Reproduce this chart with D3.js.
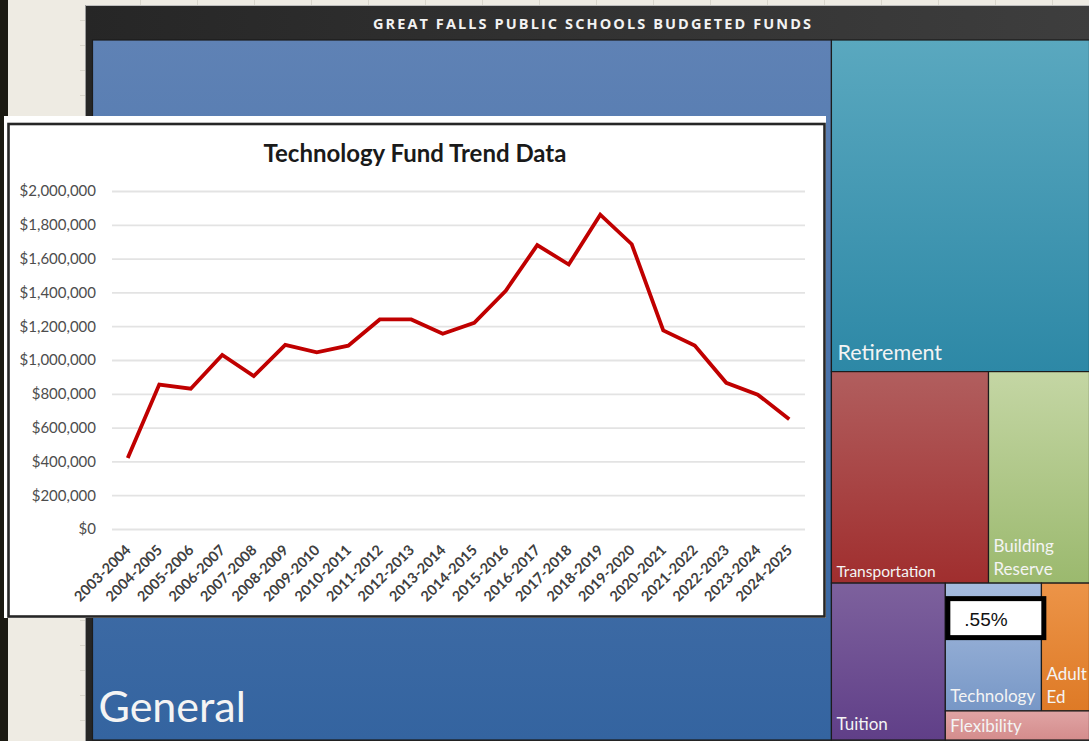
<!DOCTYPE html>
<html><head><meta charset="utf-8">
<script src="https://cdn.jsdelivr.net/npm/d3@7"></script>
<style>
html,body{margin:0;padding:0;background:#eeebe3;overflow:hidden;}
svg{display:block;}
</style></head>
<body>
<svg id="c" width="1089" height="741"></svg>
<script>
// ---------- DATA ----------
const pageTitle = "GREAT FALLS PUBLIC SCHOOLS BUDGETED FUNDS";
const fundNames  = ["General","Retirement","Transportation","Building Reserve","Tuition","Technology","Adult Ed","Flexibility"];
const fundShares = [74.1, 12.26, 4.76, 3.06, 2.56, 1.76, 0.88, 0.6];
const calloutText = ".55%";

const chartTitle = "Technology Fund Trend Data";
const years = ["2003-2004","2004-2005","2005-2006","2006-2007","2007-2008","2008-2009","2009-2010","2010-2011","2011-2012","2012-2013","2013-2014","2014-2015","2015-2016","2016-2017","2017-2018","2018-2019","2019-2020","2020-2021","2021-2022","2022-2023","2023-2024","2024-2025"];
const techFund = [420000,855000,830000,1030000,905000,1090000,1045000,1085000,1240000,1240000,1155000,1220000,1410000,1680000,1565000,1860000,1685000,1175000,1085000,865000,795000,650000];
const yTicks = [0,200000,400000,600000,800000,1000000,1200000,1400000,1600000,1800000,2000000];
const yTickLabels = ["$0","$200,000","$400,000","$600,000","$800,000","$1,000,000","$1,200,000","$1,400,000","$1,600,000","$1,800,000","$2,000,000"];

// ---------- DRAW ----------
const svg = d3.select("#c");
const defs = svg.append("defs");

// page background details
svg.append("rect").attr("x",0).attr("y",0).attr("width",8).attr("height",741).attr("fill","#1b1a12");
const gridG = svg.append("g").attr("stroke","#d9d6cc").attr("stroke-width",1);
d3.range(140, 1089, 57).forEach(x=>gridG.append("line").attr("x1",x+0.5).attr("x2",x+0.5).attr("y1",0).attr("y2",5));
d3.range(20, 741, 25).forEach(y=>gridG.append("line").attr("x1",80).attr("x2",85).attr("y1",y+0.5).attr("y2",y+0.5));

// frame
const fg = defs.append("linearGradient").attr("id","frameG").attr("x1",0).attr("x2",1).attr("y1",0).attr("y2",0);
fg.append("stop").attr("offset","0").attr("stop-color","#262626");
fg.append("stop").attr("offset","1").attr("stop-color","#3e3e3e");
svg.append("rect").attr("x",85).attr("y",5).attr("width",1010).attr("height",740).attr("fill","url(#frameG)");
svg.append("line").attr("x1",85).attr("x2",1089).attr("y1",5.5).attr("y2",5.5).attr("stroke","#bdbdbd");
svg.append("line").attr("x1",85.5).attr("x2",85.5).attr("y1",5).attr("y2",741).attr("stroke","#9a9a9a");
svg.append("text").attr("x",593).attr("y",28.5).attr("text-anchor","middle")
  .attr("font-family","'Open Sans', sans-serif").attr("font-weight",700).attr("font-size",14.5)
  .attr("letter-spacing",2.1).attr("fill","#f2f2f2").text(pageTitle);

// treemap
const gradColors = {
  "General":["#5f82b5","#3464a0"],
  "Retirement":["#5aa8bf","#2d88a6"],
  "Transportation":["#b15e5e","#a02e2e"],
  "Building Reserve":["#c4d6a4","#9bb96e"],
  "Tuition":["#7d619d","#603f88"],
  "Technology":["#a6bcdf","#7797c6"],
  "Adult Ed":["#ec9448","#de7a26"],
  "Flexibility":["#e0a4a4","#d48c8c"]
};
const share = n => fundShares[fundNames.indexOf(n)];
const treeData = {dir:"dice", children:[
  {name:"General", value:share("General")},
  {dir:"slice", children:[
    {name:"Retirement", value:share("Retirement")},
    {dir:"dice", children:[{name:"Transportation",value:share("Transportation")},{name:"Building Reserve",value:share("Building Reserve")}]},
    {dir:"dice", children:[
      {name:"Tuition", value:share("Tuition")},
      {dir:"slice", children:[
        {dir:"dice", children:[{name:"Technology",value:share("Technology")},{name:"Adult Ed",value:share("Adult Ed")}]},
        {name:"Flexibility", value:share("Flexibility")}
      ]}
    ]}
  ]}
]};
const root = d3.hierarchy(treeData).sum(d=>d.value||0);
d3.treemap()
  .tile((node,x0,y0,x1,y1)=> (node.data.dir==="slice"? d3.treemapSlice : d3.treemapDice)(node,x0,y0,x1,y1))
  .size([997,700]).round(false)(root);
const tm = svg.append("g").attr("transform","translate(92.5,40)");
root.leaves().forEach((lf,i)=>{
  const c = gradColors[lf.data.name];
  const gid = "g"+i;
  const lg = defs.append("linearGradient").attr("id",gid).attr("x1",0).attr("x2",0).attr("y1",0).attr("y2",1);
  lg.append("stop").attr("offset","0").attr("stop-color",c[0]);
  lg.append("stop").attr("offset","1").attr("stop-color",c[1]);
  tm.append("rect").attr("x",lf.x0).attr("y",lf.y0).attr("width",lf.x1-lf.x0).attr("height",lf.y1-lf.y0)
    .attr("fill",`url(#${gid})`).attr("stroke","#1c1c1c").attr("stroke-width",1.2);
});
const labelSpec = {
  "General":{size:43, lines:["General"], dx:6, by:682},
  "Retirement":{size:21.5, lines:["Retirement"], dx:6, by:320},
  "Transportation":{size:15.5, lines:["Transportation"], dx:5, by:537},
  "Building Reserve":{size:17, lines:["Building","Reserve"], dx:5, by:512},
  "Tuition":{size:17, lines:["Tuition"], dx:5, by:690},
  "Technology":{size:17, lines:["Technology"], dx:5, by:662},
  "Adult Ed":{size:17, lines:["Adult","Ed"], dx:5, by:640},
  "Flexibility":{size:17, lines:["Flexibility"], dx:5, by:692}
};
root.leaves().forEach(lf=>{
  const s = labelSpec[lf.data.name];
  const t = tm.append("text").attr("font-family","Lato, 'Noto Sans', sans-serif").attr("font-size",s.size)
    .attr("fill","#f4f4f4");
  s.lines.forEach((ln,j)=>t.append("tspan").attr("x",lf.x0+s.dx).attr("y",s.by+j*s.size*1.35).text(ln));
});
// callout box on technology
const tech = root.leaves().find(l=>l.data.name==="Technology");
tm.append("rect").attr("x",tech.x0+2.5).attr("y",tech.y0+15.5).attr("width",96).attr("height",39)
  .attr("fill","#ffffff").attr("stroke","#000").attr("stroke-width",5);
tm.append("text").attr("x",tech.x0+19).attr("y",tech.y0+43).attr("font-family","'Liberation Sans', Arial, sans-serif")
  .attr("font-size",19).attr("fill","#111").text(calloutText);

// ---------- LINE CHART PANEL ----------
svg.append("rect").attr("x",4).attr("y",116).attr("width",822).attr("height",502).attr("fill","#ffffff");
svg.append("rect").attr("x",8.5).attr("y",124).attr("width",816).attr("height",492.5).attr("fill","#ffffff")
  .attr("stroke","#262626").attr("stroke-width",2.6);

svg.append("text").attr("x",415).attr("y",162).attr("text-anchor","middle")
  .attr("font-family","Lato, 'Noto Sans', sans-serif").attr("font-weight",700).attr("font-size",24)
  .attr("fill","#1a1a1a").text(chartTitle);

const x = d3.scaleBand().domain(years).range([112,805]);
const y = d3.scaleLinear().domain([0,2000000]).range([529,191]);

const yAx = svg.append("g").attr("transform","translate(112,0)")
  .call(d3.axisLeft(y).tickValues(yTicks).tickFormat((d,i)=>yTickLabels[i]).tickSize(-693).tickPadding(16));
yAx.select(".domain").remove();
yAx.selectAll(".tick line").attr("stroke","#e3e3e3").attr("stroke-width",1.8);
yAx.selectAll(".tick text").attr("font-family","Lato, 'Noto Sans', sans-serif").attr("font-size",15)
  .attr("fill","#4d4d4d");

const xAx = svg.append("g").attr("transform","translate(0,529)")
  .call(d3.axisBottom(x).tickSize(0).tickPadding(0));
xAx.select(".domain").remove();
xAx.selectAll(".tick text")
  .attr("font-family","Lato, 'Noto Sans', sans-serif").attr("font-size",14.5).attr("font-weight",700).attr("fill","#404040")
  .attr("text-anchor","end").attr("dy",0).attr("y",0)
  .attr("transform","translate(4,22) rotate(-45)");

const line = d3.line().x((d,i)=>x(years[i])+x.bandwidth()/2).y(d=>y(d));
svg.append("path").datum(techFund).attr("d",line).attr("fill","none")
  .attr("stroke","#c00000").attr("stroke-width",3.8).attr("stroke-linejoin","miter");
</script>
</body></html>
